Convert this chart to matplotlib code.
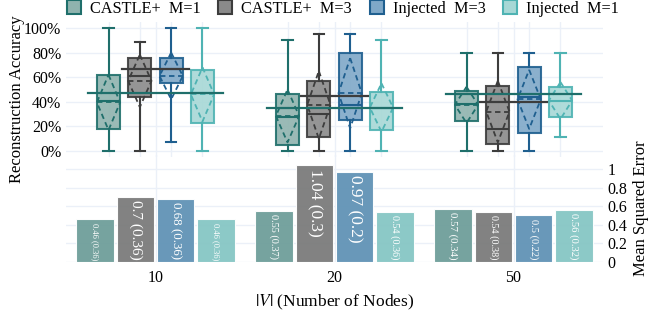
import matplotlib.pyplot as plt
from matplotlib.lines import Line2D

plt.rcParams['font.family'] = ['Liberation Serif', 'DejaVu Serif']
plt.rcParams['mathtext.fontset'] = 'stix'

groups = ['10', '20', '50']
series = ['CASTLE+  M=1', 'CASTLE+  M=3', 'Injected  M=3', 'Injected  M=1']

# reconstruction accuracy box stats, one list per series (over groups)
acc_min = [[0.00, 0.00, 0.00], [0.00, 0.00, 0.00], [0.07, 0.00, 0.00], [0.00, 0.00, 0.11]]
acc_q1 = [[0.18, 0.05, 0.24], [0.44, 0.11, 0.06], [0.55, 0.25, 0.15], [0.23, 0.17, 0.28]]
acc_med = [[0.41, 0.28, 0.38], [0.61, 0.30, 0.18], [0.67, 0.37, 0.44], [0.47, 0.35, 0.41]]
acc_q3 = [[0.62, 0.46, 0.49], [0.76, 0.57, 0.53], [0.76, 0.80, 0.68], [0.66, 0.48, 0.52]]
acc_max = [[1.00, 0.90, 0.80], [0.89, 0.95, 0.80], [1.00, 0.95, 0.80], [1.00, 0.90, 0.80]]
acc_mean = [[0.395, 0.285, 0.375], [0.57, 0.375, 0.32], [0.61, 0.47, 0.42], [0.46, 0.353, 0.41]]
acc_sd = [[0.225, 0.215, 0.147], [0.213, 0.275, 0.25], [0.19, 0.285, 0.24], [0.22, 0.197, 0.15]]

# reference lines for M=1 and M=3
ref_m1 = [0.47, 0.35, 0.46]
ref_m3 = [0.67, 0.45, 0.40]

# mean squared error (mean, sd)
mse_mean = [[0.46, 0.55, 0.57], [0.70, 1.04, 0.54], [0.68, 0.97, 0.50], [0.46, 0.54, 0.56]]
mse_sd = [[0.36, 0.37, 0.34], [0.36, 0.30, 0.38], [0.36, 0.20, 0.22], [0.36, 0.36, 0.32]]

line_colors = ['#1f6f6b', '#3d3d3d', '#1f5f8f', '#4fb3b3']
fill_colors = ['#8fb3ae', '#8a8a8a', '#7fa8c8', '#a7d8d6']
bar_colors = ['#6f9e9a', '#7b7b7b', '#6193b6', '#86c6c4']
GRID = '#ebf0f8'

W, H = 665, 320
fig = plt.figure(figsize=(W / 100, H / 100), dpi=100)


def axes_px(l, t, r, b):
    return fig.add_axes([l / W, 1 - b / H, (r - l) / W, (b - t) / H])


ax1 = axes_px(66, 21.85, 603, 157.15)
ax2 = axes_px(66, 155, 603, 262)
ax2.patch.set_visible(False)

x = list(range(len(groups)))
box_off = [-0.2625, -0.0875, 0.0875, 0.2625]
box_w = 0.13
bar_off = [-0.3375, -0.1125, 0.1125, 0.3375]
bar_w = 0.21

for ax in (ax1, ax2):
    ax.set_xlim(-0.5, 2.5)
    for s in ax.spines.values():
        s.set_visible(False)
    ax.grid(True, color=GRID, lw=1)
    ax.set_axisbelow(True)
    ax.tick_params(length=0, labelsize=11.5)
    ax.set_xticks(x)

# ---- top: boxes
for i in range(4):
    stats = []
    for g in range(3):
        stats.append(dict(med=acc_med[i][g], q1=acc_q1[i][g], q3=acc_q3[i][g],
                          whislo=acc_min[i][g], whishi=acc_max[i][g],
                          mean=acc_mean[i][g], fliers=[]))
    pos = [g + box_off[i] for g in x]
    lc = line_colors[i]
    ax1.bxp(stats, positions=pos, widths=box_w, patch_artist=True,
            showmeans=True, meanline=True, showfliers=False,
            capwidths=box_w * 0.45,
            boxprops=dict(facecolor=fill_colors[i], edgecolor=lc, lw=1.5, alpha=0.9),
            medianprops=dict(color=lc, lw=1.5),
            meanprops=dict(color=lc, lw=1.3, ls=(0, (3, 2))),
            whiskerprops=dict(color=lc, lw=1.5),
            capprops=dict(color=lc, lw=1.5))
    # mean +/- sd diamond
    for g in range(3):
        m, s = acc_mean[i][g], acc_sd[i][g]
        p = pos[g]
        ax1.plot([p, p + box_w / 2, p, p - box_w / 2, p], [m + s, m, m - s, m, m + s],
                 color=lc, lw=1.3, ls=(0, (3, 2)), zorder=4)

for g in x:
    ax1.plot([g - 0.377, g + 0.377], [ref_m1[g]] * 2, color=line_colors[0], lw=1.6, zorder=5)
    ax1.plot([g - 0.187, g + 0.187], [ref_m3[g]] * 2, color=line_colors[1], lw=1.6, zorder=5)

ax1.set_ylim(-0.05, 1.05)
ax1.set_yticks([0, 0.2, 0.4, 0.6, 0.8, 1.0])
ax1.set_yticklabels(['0%', '20%', '40%', '60%', '80%', '100%'])
ax1.set_xticklabels([])
ax1.set_ylabel('Reconstruction Accuracy', fontsize=12)
ax1.yaxis.set_label_coords(-0.076, 0.43)

# ---- bottom: bars
texts = []
for i in range(4):
    pos = [g + bar_off[i] for g in x]
    ax2.bar(pos, mse_mean[i], width=bar_w, color=bar_colors[i],
            edgecolor='white', lw=0.8, alpha=0.95)
    for g in range(3):
        lab = '{:g} ({:g})'.format(mse_mean[i][g], mse_sd[i][g])
        t = ax2.annotate(lab, (pos[g], mse_mean[i][g]), xytext=(0, -2.5),
                         textcoords='offset points', rotation=-90,
                         ha='center', va='top', color='white', fontsize=12.5)
        texts.append((t, mse_mean[i][g]))

ax2.set_ylim(0, 1.15)
ax2.set_yticks([0, 0.2, 0.4, 0.6, 0.8, 1.0])
ax2.set_yticklabels(['0', '0.2', '0.4', '0.6', '0.8', '1'])
ax2.yaxis.tick_right()
ax2.yaxis.set_label_position('right')
ax2.set_ylabel('Mean Squared Error', fontsize=12)
ax2.set_xticklabels(groups)
ax2.tick_params(axis='x', pad=6)
ax2.set_xlabel(r'$|V|$ (Number of Nodes)', fontsize=12.5, labelpad=5)

# shrink bar labels that do not fit inside their bar
r = fig.canvas.get_renderer()
for t, h in texts:
    hp = ax2.transData.transform((0, h))[1] - ax2.transData.transform((0, 0))[1]
    bb = t.get_window_extent(r)
    if bb.height > hp - 6:
        t.set_fontsize(t.get_fontsize() * (hp - 6) / bb.height)

handles = [Line2D([], [], ls='none', marker='s', markersize=10,
                  markerfacecolor=fill_colors[i], markeredgecolor=line_colors[i],
                  markeredgewidth=1.5) for i in range(4)]
fig.legend(handles, series, loc='center', bbox_to_anchor=(0.515, 0.972), ncol=4,
           frameon=False, fontsize=11.7, handletextpad=0.5, columnspacing=1.0,
           handlelength=1.0, borderpad=0)

fig.savefig('out.png', dpi=100)
